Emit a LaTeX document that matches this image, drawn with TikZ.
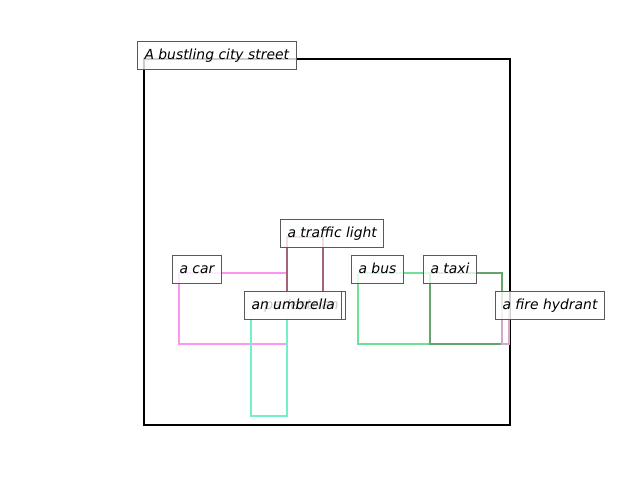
\documentclass[tikz,border=0pt]{standalone}
\usepackage{fontspec}
\setmainfont{DejaVu Sans}
\usepackage{tikz}
\usetikzlibrary{calc}

\definecolor{carpink}{RGB}{250,150,242}
\definecolor{lightbrown}{RGB}{165,100,118}
\definecolor{pedaqua}{RGB}{115,240,200}
\definecolor{busgreen}{RGB}{110,225,150}
\definecolor{taxigreen}{RGB}{100,165,110}
\definecolor{hydrantpink}{RGB}{210,170,200}

\begin{document}
\begin{tikzpicture}[x=1pt,y=-1pt,
	lbl/.style={anchor=base west, xshift=-7pt, fill=white, fill opacity=0.8,
		text opacity=1, draw=black!65, line width=1pt, inner sep=7pt,
		text height=11pt, text depth=3pt,
		font=\itshape\fontsize{13.9}{16}\selectfont},
	obj/.style={line width=2.4pt}]

\useasboundingbox (0,0) rectangle (640,480);

% scene frame
\draw[line width=2pt] (144,59) rectangle (510,425);

% objects
\draw[obj,carpink] (179,273) rectangle (287,344);
\draw[obj,lightbrown] (287,237) rectangle (323,309);
\draw[obj,pedaqua] (251,309) rectangle (287,416);
\draw[obj,busgreen] (358,273) rectangle (430,344);
\draw[obj,taxigreen] (430,273) rectangle (502,344);
\draw[obj,hydrantpink] (502,309) rectangle (509,344);

% labels
\node[lbl] (street) at (144,59) {A bustling city street};
\node[lbl] (car) at (179,273) {a car};
\node[lbl] (light) at (287,237) {a traffic light};
\node[lbl] (pedestrian) at (251,309) {a pedestrian};
\node[lbl] (umbrella) at (251,309) {an umbrella};
\node[lbl] (bus) at (358,273) {a bus};
\node[lbl] (taxi) at (430,273) {a taxi};
\node[lbl] (hydrant) at (502,309) {a fire hydrant};
\end{tikzpicture}
\end{document}
